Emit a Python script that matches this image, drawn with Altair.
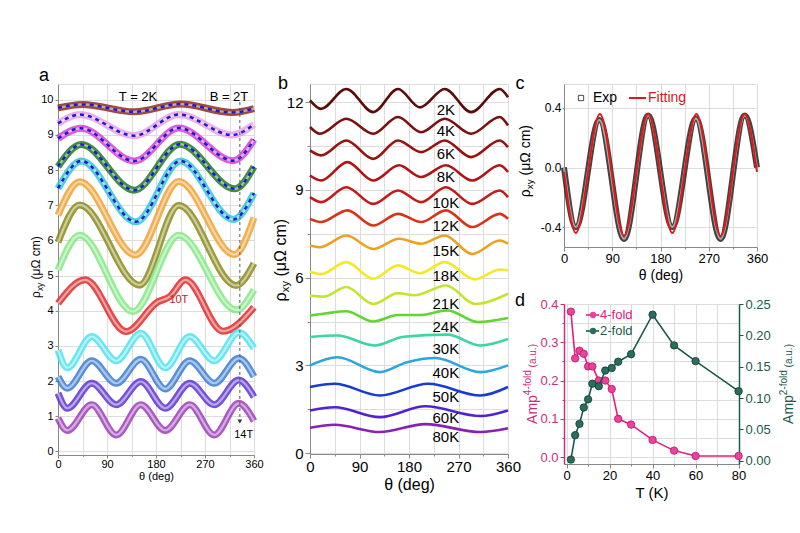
import altair as alt
import pandas as pd

FONT = "Liberation Sans"

# ---------------- panel a : rho_xy(theta), T = 2 K, B = 2 ... 14 T (theta, rho) ----------------
A_FIELDS = ["2T", "3T", "4T", "5T", "6T", "7T", "8T", "9T", "10T", "11T", "12T", "13T", "14T"]
A_COLORS = ["#8c2a1e", "#eaa0ea", "#d440d8", "#1e7a22", "#2ec6d8", "#f2a030", "#8a8a1a",
            "#84e884", "#e02a2a", "#4ee2ee", "#3a7cd2", "#5c32d0", "#9c3cb8"]
A_FIT_FIELDS = ["2T", "3T", "4T", "5T", "6T"]
A_2T = [(0, 9.77), (45, 9.87), (140, 9.66), (225, 9.88), (320, 9.64), (360, 9.75)]
A_3T = [(0, 9.33), (40, 9.58), (140, 8.98), (222, 9.58), (320, 9.0), (360, 9.3)]
A_4T = [(0, 8.9), (42, 9.19), (140, 8.26), (222, 9.2), (322, 8.27), (360, 8.87)]
A_5T = [(0, 8.1), (43, 8.73), (140, 7.43), (224, 8.74), (325, 7.47), (360, 8.1)]
A_6T = [(0, 7.48), (43, 8.26), (143, 6.53), (225, 8.26), (322, 6.6), (360, 7.35)]
A_7T = [(0, 6.72), (40, 7.67), (142, 5.59), (222, 7.68), (324, 5.6), (360, 6.65)]
A_8T = [(0, 5.95), (40, 7.01), (150, 4.73), (222, 7.0), (327, 4.72), (360, 5.35)]
A_9T = [(0, 5.16), (40, 6.15), (138, 3.98), (222, 6.15), (328, 4.02), (360, 4.6)]
A_10T = [(0, 4.21), (50, 4.88), (125, 3.41), (183, 4.25), (205, 4.4), (234, 4.88), (303, 3.42), (360, 4.1)]
A_11T = [(0, 2.88), (17, 2.38), (62, 3.27), (107, 2.58), (152, 3.36), (197, 2.38), (242, 3.27), (287, 2.58), (332, 3.38), (360, 2.93)]
A_12T = [(0, 2.13), (17, 1.8), (62, 2.58), (107, 1.94), (152, 2.62), (197, 1.78), (242, 2.58), (287, 1.94), (332, 2.65), (360, 2.13)]
A_13T = [(0, 1.66), (17, 1.23), (62, 1.94), (107, 1.33), (152, 1.99), (197, 1.23), (242, 1.94), (287, 1.33), (332, 2.03), (360, 1.55)]
A_14T = [(0, 0.95), (17, 0.6), (62, 1.33), (107, 0.47), (152, 1.33), (197, 0.6), (242, 1.33), (287, 0.47), (332, 1.37), (360, 0.87)]
A_CURVES = [A_2T, A_3T, A_4T, A_5T, A_6T, A_7T, A_8T, A_9T, A_10T, A_11T, A_12T, A_13T, A_14T]
A_MARK = {"theta": [334], "rho": [9.94], "rho2": [0.95]}

# ---------------- panel b : rho_xy(theta) at several temperatures ----------------
B_TEMPS = ["2K", "4K", "6K", "8K", "10K", "12K", "15K", "18K", "21K", "24K", "30K", "40K", "50K", "60K", "80K"]
B_COLORS = ["#5a0c0c", "#7c1010", "#981212", "#b01515", "#c41a1a", "#d8341a", "#eea020", "#f2ea28",
            "#c2e62e", "#62d630", "#3cd6a0", "#2aa6e0", "#1a3ad4", "#5222d2", "#8622b4"]
B_2K = [(0, 12.06), (20, 11.77), (66, 12.45), (115, 11.66), (160, 12.45), (200, 11.82), (245, 12.45), (293, 11.66), (345, 12.45), (360, 12.17)]
B_4K = [(0, 11.15), (18, 10.92), (66, 11.43), (115, 10.92), (160, 11.49), (202, 10.97), (245, 11.43), (293, 10.92), (345, 11.49), (360, 11.2)]
B_6K = [(0, 10.35), (20, 10.18), (66, 10.69), (115, 10.06), (160, 10.69), (202, 10.29), (245, 10.69), (293, 10.12), (345, 10.69), (360, 10.46)]
B_8K = [(0, 9.49), (20, 9.32), (68, 9.95), (115, 9.32), (162, 9.84), (202, 9.44), (247, 9.84), (295, 9.32), (345, 9.84), (360, 9.61)]
B_10K = [(0, 8.75), (20, 8.58), (66, 9.09), (115, 8.52), (160, 8.98), (202, 8.58), (247, 9.09), (295, 8.52), (345, 8.98), (360, 8.75)]
B_12K = [(0, 8.01), (20, 7.9), (68, 8.3), (115, 7.78), (160, 8.18), (202, 7.9), (247, 8.3), (295, 7.73), (345, 8.18), (360, 8.01)]
B_15K = [(0, 7.1), (18, 7.04), (66, 7.44), (115, 6.98), (162, 7.33), (202, 7.16), (245, 7.44), (295, 6.81), (345, 7.27), (360, 7.16)]
B_18K = [(0, 6.2), (20, 6.12), (66, 6.53), (115, 5.96), (160, 6.42), (200, 6.15), (245, 6.53), (300, 5.94), (345, 6.28), (360, 6.25)]
B_21K = [(0, 5.39), (25, 5.35), (66, 5.68), (115, 5.1), (160, 5.47), (190, 5.4), (248, 5.73), (300, 5.1), (360, 5.45)]
B_24K = [(0, 4.7), (30, 4.78), (66, 4.85), (115, 4.5), (160, 4.72), (200, 4.72), (250, 4.88), (305, 4.48), (360, 4.62)]
B_30K = [(0, 3.97), (50, 4.02), (118, 3.68), (170, 3.98), (250, 4.05), (310, 3.68), (360, 3.9)]
B_40K = [(0, 3.0), (50, 3.28), (127, 2.77), (175, 3.1), (228, 3.25), (310, 2.77), (360, 3.0)]
B_50K = [(0, 2.26), (45, 2.37), (127, 1.97), (215, 2.37), (310, 1.97), (360, 2.26)]
B_60K = [(0, 1.46), (45, 1.57), (127, 1.23), (210, 1.6), (310, 1.27), (360, 1.46)]
B_80K = [(0, 0.87), (45, 0.97), (127, 0.72), (210, 0.99), (310, 0.72), (360, 0.85)]
B_CURVES = [B_2K, B_4K, B_6K, B_8K, B_10K, B_12K, B_15K, B_18K, B_21K, B_24K, B_30K, B_40K, B_50K, B_60K, B_80K]
B_LABEL_THETA = 247
B_LABEL_RHO = [11.73, 11.0, 10.22, 9.44, 8.55, 7.75, 6.9, 6.05, 5.1, 4.3, 3.56, 2.74, 1.93, 1.2, 0.55]

# ---------------- panel c : experiment vs fit ----------------
C_EXP = [(0, 0.0), (22, -0.40), (66, 0.32), (112, -0.48), (157, 0.35), (202, -0.40), (246, 0.33), (292, -0.48), (337, 0.35), (360, 0.0)]
C_FIT = [(0, -0.03), (22, -0.44), (67, 0.36), (112, -0.46), (157, 0.36), (202, -0.44), (247, 0.36), (292, -0.46), (337, 0.36), (360, -0.03)]
C_TICKS = [-0.4, 0.0, 0.4]
C_TICK_LABELS = ["-0.4", "0.0", "0.4"]

# ---------------- panel d : amplitudes vs temperature ----------------
D_T = [2, 4, 6, 8, 10, 12, 15, 18, 21, 24, 30, 40, 50, 60, 80]
D_AMP4 = [0.38, 0.258, 0.278, 0.27, 0.237, 0.237, 0.20, 0.20, 0.178, 0.10, 0.085, 0.045, 0.017, 0.003, 0.003]
D_AMP2 = [0.002, 0.041, 0.059, 0.085, 0.098, 0.123, 0.119, 0.144, 0.148, 0.158, 0.170, 0.233, 0.184, 0.159, 0.111]

PINK = "#e2207c"
PINK_AX = "#c8307a"
TEAL = "#1c5a4c"

ONE = pd.DataFrame({"k": [0]})

CW = {"ρ": 0.58, "x": 0.5, "y": 0.5, " ": 0.278, "(": 0.333, ")": 0.333, "μ": 0.576, "Ω": 0.768,
      "c": 0.5, "m": 0.833, "A": 0.667, "p": 0.556, "4": 0.556, "2": 0.556, "-": 0.333, "f": 0.278,
      "o": 0.556, "l": 0.222, "d": 0.556, "a": 0.556, ".": 0.278, "u": 0.556}


def tw(s, size):
    return sum(CW.get(ch, 0.55) for ch in s) * size


def txt(s, x, y, size, color="black", angle=0, align="center", baseline="middle", weight="normal"):
    return alt.Chart(ONE).mark_text(text=s, fontSize=size, color=color, angle=angle, align=align,
                                    baseline=baseline, fontWeight=weight, font=FONT).encode(
        x=alt.value(x), y=alt.value(y))


def vtitle(parts, xc, yc, color="black"):
    total = sum(tw(s, size) for s, size, dx in parts)
    y = yc + total / 2
    out = []
    for s, size, dx in parts:
        lead = len(s) - len(s.lstrip())
        y -= tw(" " * lead, size)
        out.append(txt(s.lstrip(), xc + dx, y, size, color=color, angle=270, align="left"))
        y -= tw(s.lstrip(), size)
    return out


def rho_title(xc, yc, size):
    return vtitle([("ρ", size, 0), ("xy", size * 0.7, size * 0.3), (" (μΩ cm)", size, 0)], xc, yc)


def long_df(names, curves, key):
    rows = []
    for n, pts in zip(names, curves):
        for t, v in pts:
            rows.append({key: n, "theta": t, "rho": v})
    return pd.DataFrame(rows)


def theta_axis(fs, tick=4, tfs=None, lpad=1, tpad=0):
    return alt.Axis(values=list(range(0, 361, 45)), labelExpr="datum.value % 90 == 0 ? datum.label : ''",
                    tickSize={"condition": {"test": "datum.value % 90 == 0", "value": tick}, "value": tick / 2},
                    title="θ (deg)", labelFontSize=fs, titleFontSize=tfs or fs, labelPadding=lpad, titlePadding=tpad,
                    labelFlush=False, labelOverlap=False, titleFontWeight="normal")


# ================= panel a =================
W_A, H_A = 196, 371
df_a = long_df(A_FIELDS, A_CURVES, "field")
df_fit = df_a[df_a["field"].isin(A_FIT_FIELDS)]
xa = alt.X("theta:Q", scale=alt.Scale(domain=[0, 360], nice=False), axis=theta_axis(11, 3, 11, 0, 1))
ya = alt.Y("rho:Q", scale=alt.Scale(domain=[-0.1, 10.45], nice=False, zero=False),
           axis=alt.Axis(values=list(range(0, 11)), title=None, labelFontSize=11, tickSize=3, labelPadding=2,
                         labelOverlap=False))

band_a = alt.Chart(df_a).mark_line(interpolate="monotone", strokeWidth=7, opacity=0.85).encode(
    x=xa, y=ya, color=alt.Color("field:N", scale=alt.Scale(domain=A_FIELDS, range=A_COLORS), legend=None))
hollow_a = alt.Chart(df_a).mark_line(interpolate="monotone", strokeWidth=2.2, color="white", opacity=0.5).encode(
    x=xa, y=ya, detail="field:N")
fit_a = alt.Chart(df_fit).mark_line(interpolate="monotone", strokeWidth=2.5, color="#1a1ad0",
                                     strokeDash=[4, 4]).encode(x=xa, y=ya, detail="field:N")
rule_a = alt.Chart(pd.DataFrame(A_MARK)).mark_rule(strokeDash=[3, 3], color="#555555", strokeWidth=1).encode(
    x=xa, y=ya, y2="rho2:Q")
arrow_a = alt.Chart(pd.DataFrame({"theta": [334], "rho": [0.85]})).mark_point(
    shape="triangle-down", filled=True, size=22, color="#333333", opacity=1).encode(x=xa, y=ya)
ann_a = pd.DataFrame({"theta": [147, 314, 222, 341], "rho": [10.08, 10.08, 4.31, 0.47],
                      "label": ["T = 2K", "B = 2T", "10T", "14T"], "c": ["black", "black", "#c82020", "black"],
                      "s": [13, 13, 11, 11]})
text_a = alt.Chart(ann_a).mark_text(font=FONT).encode(x=xa, y=ya, text="label:N",
                                                       color=alt.Color("c:N", scale=None),
                                                       size=alt.Size("s:Q", scale=None))
panel_a = alt.layer(band_a, hollow_a, fit_a, rule_a, arrow_a, text_a,
                    txt("a", -14, -8, 18),
                    *rho_title(-22, 183, 12)).properties(width=W_A, height=H_A)

# ================= panel b =================
W_B, H_B = 198, 370
df_b = long_df(B_TEMPS, B_CURVES, "temp")
xb = alt.X("theta:Q", scale=alt.Scale(domain=[0, 360], nice=False), axis=theta_axis(15, 4, 16, 1, 2))
yb = alt.Y("rho:Q", scale=alt.Scale(domain=[-0.03, 12.62], nice=False, zero=False),
           axis=alt.Axis(values=[i * 1.5 for i in range(9)], labelExpr="datum.value % 3 == 0 ? datum.label : ''",
                         tickSize={"condition": {"test": "datum.value % 3 == 0", "value": 5}, "value": 3},
                         title=None, labelFontSize=15, labelPadding=2, labelOverlap=False))
lines_b = alt.Chart(df_b).mark_line(interpolate="monotone", strokeWidth=2.6).encode(
    x=xb, y=yb, color=alt.Color("temp:N", scale=alt.Scale(domain=B_TEMPS, range=B_COLORS), legend=None))
lab_b = pd.DataFrame({"theta": [B_LABEL_THETA] * len(B_TEMPS), "rho": B_LABEL_RHO, "label": B_TEMPS})
text_b = alt.Chart(lab_b).mark_text(font=FONT, fontSize=15, color="black").encode(x=xb, y=yb, text="label:N")
panel_b = alt.layer(lines_b, text_b, txt("b", -27, 0, 18),
                    *rho_title(-29, 176, 16)).properties(width=W_B, height=H_B)

# ================= panel c =================
W_C, H_C = 193, 163
df_exp = pd.DataFrame(C_EXP, columns=["theta", "rho"])
df_cfit = pd.DataFrame(C_FIT, columns=["theta", "rho"])
c_label_expr = " : ".join(
    f"abs(datum.value - ({v})) < 0.001 ? '{lab}'" for v, lab in zip(C_TICKS, C_TICK_LABELS)) + " : ''"
xc = alt.X("theta:Q", scale=alt.Scale(domain=[0, 360], nice=False), axis=theta_axis(13, 4, 14, 1, 3))
yc = alt.Y("rho:Q", scale=alt.Scale(domain=[-0.534, 0.561], nice=False, zero=False),
           axis=alt.Axis(values=C_TICKS, labelExpr=c_label_expr, tickSize=2,
                         title=None, labelFontSize=12, labelPadding=1, labelOverlap=False))
exp_band = alt.Chart(df_exp).mark_line(interpolate="monotone", strokeWidth=6, color="#222222", opacity=0.85).encode(x=xc, y=yc)
exp_hollow = alt.Chart(df_exp).mark_line(interpolate="monotone", strokeWidth=2.0, color="white", opacity=0.55).encode(x=xc, y=yc)
fit_c = alt.Chart(df_cfit).mark_line(interpolate="monotone", strokeWidth=2, color="#e01818").encode(x=xc, y=yc)
leg_sq = alt.Chart(ONE).mark_point(shape="square", size=28, color="black", strokeWidth=1).encode(
    x=alt.value(17), y=alt.value(14))
leg_line = alt.Chart(ONE).mark_rule(color="#e01818", strokeWidth=2).encode(
    x=alt.value(65), x2=alt.value(82), y=alt.value(14))
panel_c = alt.layer(exp_band, exp_hollow, fit_c, leg_sq, leg_line,
                    txt("Exp", 29, 14, 14, align="left"),
                    txt("Fitting", 84, 14, 14, color="#d81818", align="left"),
                    txt("c", -44, 0, 18),
                    *rho_title(-38, 77, 14)).properties(width=W_C, height=H_C)

# ================= panel d =================
W_D, H_D = 175, 160
df_d = pd.DataFrame({"T": D_T, "amp4": D_AMP4, "amp2": D_AMP2})
xd = alt.X("T:Q", scale=alt.Scale(domain=[-1.2, 80.2], nice=False),
           axis=alt.Axis(values=list(range(0, 81, 10)), labelExpr="datum.value % 20 == 0 ? datum.label : ''",
                         tickSize={"condition": {"test": "datum.value % 20 == 0", "value": 4}, "value": 2},
                         title="T (K)", labelFontSize=13, titleFontSize=15, labelPadding=1, titlePadding=3,
                         labelFlush=False, labelOverlap=False, titleFontWeight="normal"))
y4 = alt.Y("amp4:Q", scale=alt.Scale(domain=[-0.018, 0.4], nice=False, zero=False),
           axis=alt.Axis(orient="left", values=[0.0, 0.05, 0.1, 0.15, 0.2, 0.25, 0.3, 0.35, 0.4],
                         labelExpr="abs(datum.value * 10 - round(datum.value * 10)) < 0.01 ? format(datum.value, '.1f') : ''",
                         tickSize={"condition": {"test": "abs(datum.value * 10 - round(datum.value * 10)) < 0.01", "value": 4}, "value": 2},
                         title=None, labelFontSize=13, labelColor=PINK_AX, domainColor=PINK_AX, tickColor=PINK_AX,
                         domainWidth=1.5, labelPadding=2, labelOverlap=False))
y2 = alt.Y("amp2:Q", scale=alt.Scale(domain=[-0.005, 0.25], nice=False, zero=False),
           axis=alt.Axis(orient="right", values=[0.0, 0.05, 0.1, 0.15, 0.2, 0.25], format=".2f",
                         title=None, labelFontSize=13, labelColor=TEAL, domainColor=TEAL, tickColor=TEAL,
                         domainWidth=1.5, tickSize=4, labelPadding=2, labelOverlap=False))
line4 = alt.Chart(df_d).mark_line(color=PINK, strokeWidth=1.6).encode(x=xd, y=y4)
pts4 = alt.Chart(df_d).mark_circle(size=55, color="#e8449a", opacity=1, stroke="#c0106a", strokeWidth=0.8).encode(x=xd, y=y4)
line2 = alt.Chart(df_d).mark_line(color=TEAL, strokeWidth=1.6).encode(x=xd, y=y2)
pts2 = alt.Chart(df_d).mark_circle(size=55, color="#2a6e5e", opacity=1, stroke="#103a30", strokeWidth=0.8).encode(x=xd, y=y2)


def leg_item(yy, col, fill, label):
    return [alt.Chart(ONE).mark_rule(color=col, strokeWidth=1.6).encode(x=alt.value(22), x2=alt.value(35), y=alt.value(yy)),
            alt.Chart(ONE).mark_circle(size=40, color=fill, opacity=1).encode(x=alt.value(29), y=alt.value(yy)),
            txt(label, 36, yy, 13, color=col, align="left")]


left_d = alt.layer(line4, pts4, *leg_item(11, PINK, "#e8449a", "4-fold"), *leg_item(27, TEAL, "#2a6e5e", "2-fold"),
                   txt("d", -44, -3, 18),
                   *vtitle([("Amp", 14, 0), ("4-fold", 10, -5), (" (a.u.)", 10, 0)], -31, 80, PINK_AX),
                   *vtitle([("Amp", 14, 0), ("2-fold", 10, -5), (" (a.u.)", 10, 0)], 225, 80, TEAL))
right_d = alt.layer(line2, pts2)
panel_d = alt.layer(left_d, right_d).resolve_scale(y="independent").properties(width=W_D, height=H_D)

col3 = alt.vconcat(panel_c, panel_d, spacing=57, bounds="flush")
chart = alt.hconcat(panel_a, panel_b, col3, spacing=56, bounds="flush").resolve_scale(
    color="independent"
).properties(
    padding={"left": 29, "top": 66, "right": 2, "bottom": 2}
).configure_view(stroke="black", strokeWidth=1).configure_axis(
    labelFont=FONT, titleFont=FONT, grid=False, titleFontWeight="normal", domainColor="black", tickColor="black",
    labelColor="#111111", titleColor="#111111"
).configure(background="white")

chart.save("out.html", embed_options={"renderer": "svg", "actions": False})
